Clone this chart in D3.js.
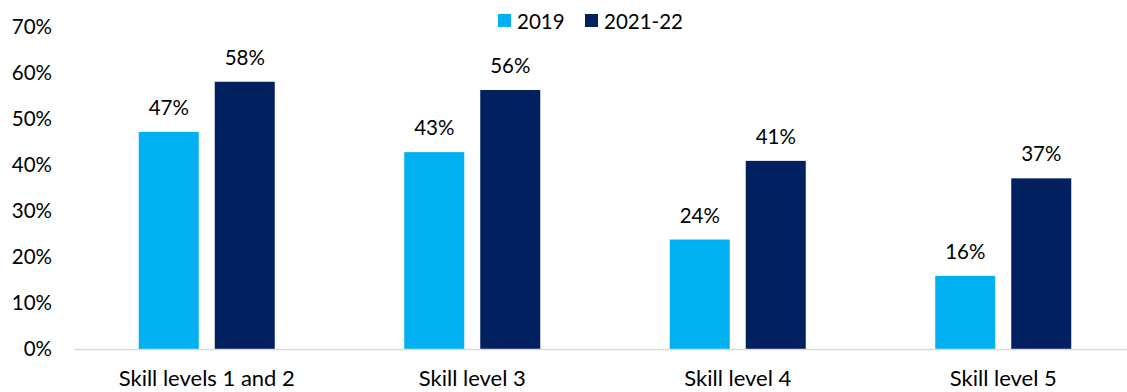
<!DOCTYPE html>
<html><head><meta charset="utf-8">
<script src="https://cdn.jsdelivr.net/npm/d3@7"></script>
<style>body{margin:0;background:#fff}svg{display:block}text{font-family:Lato,"Open Sans",sans-serif;fill:#000}</style>
</head><body>
<svg id="c" width="1127" height="392"></svg>
<script>
const categories = ["Skill levels 1 and 2", "Skill level 3", "Skill level 4", "Skill level 5"];
const seriesNames = ["2019", "2021-22"];
const values2019 = [47.2, 42.8, 23.8, 15.9];
const values2122 = [58.1, 56.3, 40.9, 37.1];
const labels2019 = ["47%", "43%", "24%", "16%"];
const labels2122 = ["58%", "56%", "41%", "37%"];
const yTicks = [0, 10, 20, 30, 40, 50, 60, 70];
const colors = ["#00B0F0", "#002060"];

const numFont = "20.5px";
const catFont = "22px";

const svg = d3.select("#c");
const x0 = d3.scaleBand().domain(categories).range([74, 1136]).paddingInner(0).paddingOuter(0);
const x1 = d3.scaleBand().domain(seriesNames).range([0, 136]).paddingInner(16/76).paddingOuter(0);
const y = d3.scaleLinear().domain([0, 70]).range([349, 27]);

// y axis labels
const yAxis = d3.axisLeft(y).tickValues(yTicks).tickFormat(d => d + "%").tickSize(0).tickPadding(0);
const ya = svg.append("g").attr("transform", "translate(52,0)").call(yAxis);
ya.select(".domain").remove();
ya.selectAll("text").style("font-size", numFont).style("font-family", "Lato,'Open Sans',sans-serif").attr("fill", "#000");

// bars
const series = [values2019, values2122];
const labs = [labels2019, labels2122];
categories.forEach((c, i) => {
  const gx = x0(c) + (x0.bandwidth() - 136) / 2;
  series.forEach((vals, s) => {
    svg.append("rect")
      .attr("x", gx + x1(seriesNames[s]))
      .attr("y", y(vals[i]))
      .attr("width", x1.bandwidth())
      .attr("height", y(0) - y(vals[i]))
      .attr("fill", colors[s]);
    svg.append("text")
      .attr("x", gx + x1(seriesNames[s]) + x1.bandwidth() / 2)
      .attr("y", y(vals[i]) - 25)
      .attr("text-anchor", "middle")
      .attr("dominant-baseline", "central")
      .style("font-size", numFont)
      .text(labs[s][i]);
  });
});

// x axis
const xAxis = d3.axisBottom(x0).tickSize(0).tickPadding(0);
const xa = svg.append("g").attr("transform", "translate(0,349)").call(xAxis);
xa.select(".domain").attr("stroke", "#d9d9d9").attr("stroke-width", 1.5);
xa.selectAll("text").attr("y", 29).attr("dy", "0.35em").style("font-size", catFont)
  .style("font-family", "Lato,'Open Sans',sans-serif").attr("fill", "#000");

// legend
const legX = [498, 585];
seriesNames.forEach((n, s) => {
  svg.append("rect").attr("x", legX[s]).attr("y", 14).attr("width", 13).attr("height", 13).attr("fill", colors[s]);
  svg.append("text").attr("x", legX[s] + 19).attr("y", 20.5).attr("dominant-baseline", "central")
    .style("font-size", numFont).text(n);
});
</script>
</body></html>
